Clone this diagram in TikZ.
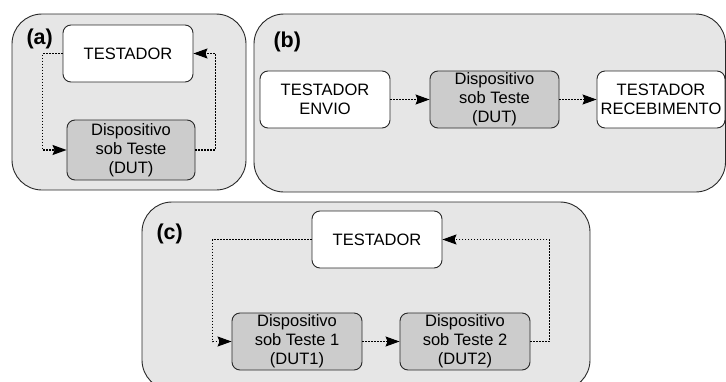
\documentclass[tikz,border=0pt]{standalone}
\usepackage{fontspec}
\setmainfont{Liberation Sans}
\usepackage{xcolor}
\usetikzlibrary{arrows.meta}

\definecolor{panelgray}{RGB}{230,230,230}
\definecolor{dutgray}{RGB}{204,204,204}
\definecolor{edgegray}{RGB}{40,40,40}

\tikzset{
  panel/.style={draw=edgegray,fill=panelgray,line width=0.9pt,rounded corners=30pt},
  tbox/.style={draw=edgegray,fill=white,line width=0.9pt,rounded corners=8pt,
    minimum width=130pt,minimum height=57pt,align=center,
    font=\fontsize{16.5}{19}\selectfont,inner sep=0pt},
  dbox/.style={tbox,fill=dutgray},
  tag/.style={anchor=west,font=\fontsize{21.5}{24}\selectfont\bfseries},
  flow/.style={line width=1.1pt,dash pattern=on 1.6pt off 1.4pt,
    -{Stealth[length=14pt,width=10pt,inset=2pt]}}
}

\begin{document}
\begin{tikzpicture}[line join=round,x=1pt,y=-1pt]
\useasboundingbox (0,0) rectangle (726,381);
\begin{scope}
\clip (0,0) rectangle (726,381);
% panels
\draw[panel] (12,14) rectangle (246,190);
\draw[panel] (254,14) rectangle (725.5,192);
\draw[panel] (142,202) rectangle (590,390);
\end{scope}

% (a)
\node[tag] (taga) at (23,39) {(a)};
\node[tbox] (aT) at (128,53.5) {TESTADOR};
\node[dbox,minimum width=128pt,minimum height=60pt] (aD) at (131,150) {Dispositivo\\sob Teste\\(DUT)};
\draw[flow] (aT.west) -- ++(-20,0) |- (aD.west);
\draw[flow] (aD.east) -- ++(20,0) |- (aT.east);

% (b)
\node[tag] (tagb) at (270,42) {(b)};
\node[tbox] (bE) at (325,99.5) {TESTADOR\\ENVIO};
\node[dbox,minimum width=129pt] (bD) at (494.5,99.5) {Dispositivo\\sob Teste\\(DUT)};
\node[tbox,minimum width=128pt] (bR) at (661,99.5) {TESTADOR\\RECEBIMENTO};
\draw[flow] (bE) -- (bD);
\draw[flow] (bD) -- (bR);

% (c)
\node[tag] (tagc) at (153,233.5) {(c)};
\node[tbox] (cT) at (377,239.5) {TESTADOR};
\node[dbox] (c1) at (297,341.5) {Dispositivo\\sob Teste 1\\(DUT1)};
\node[dbox] (c2) at (465,341.5) {Dispositivo\\sob Teste 2\\(DUT2)};
\draw[flow] (cT.west) -- ++(-99,0) |- (c1.west);
\draw[flow] (c1) -- (c2);
\draw[flow] (c2.east) -- ++(19,0) |- (cT.east);
\end{tikzpicture}
\end{document}
